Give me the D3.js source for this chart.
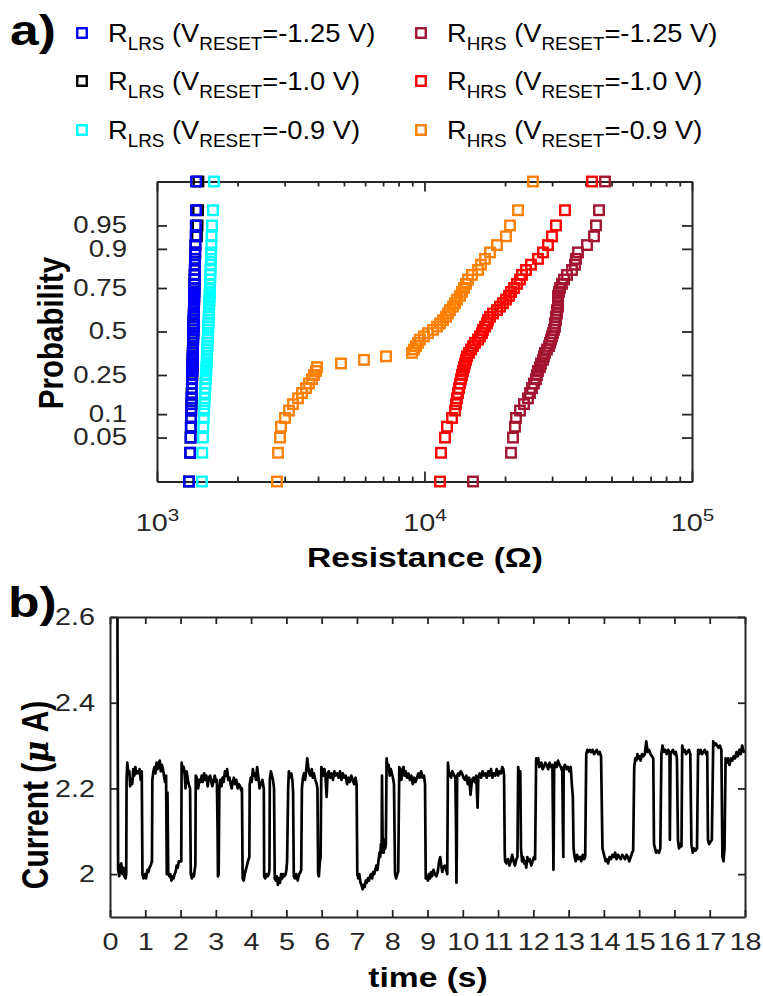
<!DOCTYPE html>
<html>
<head>
<meta charset="utf-8">
<script src="https://cdn.jsdelivr.net/npm/d3@7"></script>
<style>
  body { margin: 0; background: #fff; }
  svg { display: block; font-family: "Liberation Sans", Arial, sans-serif; }
</style>
</head>
<body>
<div id="chart"></div>
<script>
// ---- dados (a): resistência em ohm, 50 ciclos por série ----
const rLrs125 = [1317,1330,1335,1338,1341,1343,1345,1347,1349,1350,1352,1353,1354,1356,1357,1358,1359,1360,1361,1362,1363,1364,1365,1366,1367,1368,1369,1370,1371,1372,1373,1374,1375,1376,1377,1378,1379,1380,1381,1382,1383,1385,1386,1388,1390,1392,1394,1396,1398,1399];
const rLrs100 = [1317,1330,1335,1338,1341,1343,1345,1347,1349,1350,1352,1353,1354,1356,1357,1358,1359,1360,1361,1362,1363,1364,1365,1366,1367,1368,1369,1370,1371,1372,1373,1374,1375,1376,1377,1378,1379,1380,1381,1382,1383,1385,1386,1388,1390,1392,1410,1418,1424,1428];
const rLrs090 = [1473,1476,1485,1490,1495,1500,1504,1508,1512,1515,1518,1521,1524,1527,1530,1533,1535,1537,1539,1541,1543,1545,1547,1549,1551,1553,1555,1557,1559,1561,1563,1565,1567,1569,1571,1573,1575,1577,1579,1581,1583,1585,1588,1591,1594,1597,1600,1605,1619,1633];
const rHrs125 = [15182,21054,21420,21791,21980,22750,23548,24372,24796,25226,25663,26108,26333,26561,27022,27255,27729,27968,28210,28699,29199,29451,29706,29963,30222,30484,30748,30748,31013,31013,31282,31282,31552,31552,31552,31552,31825,32101,32657,33224,34094,35593,36524,36840,37481,40502,43017,43763,44907,47287];
const rHrs100 = [11428,11527,11931,12138,12673,13004,13116,13229,13343,13459,13575,13692,13811,13930,14051,14172,14295,14419,14669,14923,15182,15445,15850,16125,16404,16545,16833,17124,17272,17574,18033,18665,19153,19655,20168,20695,21054,21604,22170,22750,23145,23957,25008,26561,27729,28949,29963,31013,33511,42283];
const rHrs090 = [2809,2834,2883,2908,3010,3115,3224,3366,3484,3606,3700,3797,3863,3930,3964,4874,5941,7180,8980,9136,9294,9456,9620,9957,10306,10759,11136,11428,11727,12034,12243,12456,12782,13004,13229,13575,13811,14051,14295,14544,15052,15850,16264,16833,17574,18665,20168,20874,22363,25446];

const probTicks = [0.05, 0.1, 0.25, 0.5, 0.75, 0.9, 0.95];
const resTicks = [1e3, 1e4, 1e5];

// ---- dados (b): corrente (uA) x tempo (s) ----
const currentTrace = [
  [0.21,2.62],[0.23,2.01],[0.26,1.995],[0.29,2.02],[0.32,2.025],[0.35,2.0],[0.38,2.015],[0.41,1.995],[0.44,1.99],[0.46,2.0],
  [0.47,2.22],[0.49,2.26],[0.52,2.235],[0.55,2.24],[0.57,2.205],[0.6,2.22],[0.63,2.21],[0.66,2.245],[0.69,2.23],[0.72,2.25],[0.75,2.235],[0.78,2.24],[0.81,2.235],[0.84,2.245],[0.87,2.22],[0.9,2.24],
  [0.92,2.0],[0.95,1.99],[0.99,2.0],[1.02,1.99],[1.06,2.01],[1.09,2.005],[1.12,2.015],[1.15,2.02],[1.19,2.03],
  [1.2,2.22],[1.23,2.24],[1.26,2.25],[1.29,2.235],[1.32,2.26],[1.35,2.245],[1.38,2.255],[1.41,2.265],[1.44,2.24],[1.47,2.255],[1.5,2.245],[1.53,2.23],[1.56,2.215],[1.59,2.23],
  [1.61,2.0],[1.63,2.19],[1.65,2.005],[1.68,1.995],[1.71,2.0],[1.74,1.985],[1.77,1.995],[1.8,1.99],[1.83,2.0],[1.86,2.005],[1.89,2.02],[1.92,2.015],[1.95,2.03],[2.02,2.03],
  [2.03,2.26],[2.06,2.245],[2.09,2.25],[2.12,2.23],[2.14,2.2],[2.17,2.24],[2.2,2.225],[2.23,2.21],[2.27,2.2],
  [2.29,2.0],[2.32,1.99],[2.35,2.0],[2.38,1.995],[2.4,2.01],[2.42,2.02],
  [2.43,2.23],[2.46,2.225],[2.5,2.2],[2.53,2.22],[2.56,2.215],[2.6,2.23],[2.63,2.215],[2.67,2.235],[2.7,2.22],[2.73,2.23],[2.77,2.205],[2.8,2.225],[2.84,2.23],[2.87,2.215],[2.9,2.205],[2.94,2.22],[2.97,2.23],[3.0,2.215],[3.03,2.22],
  [3.05,2.1],[3.06,1.995],[3.08,2.0],[3.1,2.2],
  [3.13,2.22],[3.16,2.205],[3.19,2.225],[3.22,2.215],[3.26,2.24],[3.29,2.23],[3.32,2.245],[3.35,2.22],[3.39,2.225],[3.42,2.21],[3.45,2.2],[3.48,2.215],[3.51,2.225],[3.55,2.21],[3.58,2.22],[3.62,2.2],[3.65,2.21],[3.69,2.205],[3.72,2.195],[3.74,2.2],
  [3.76,1.99],[3.79,1.985],[3.82,2.0],[3.85,2.01],[3.88,2.02],[3.91,2.03],[3.95,2.04],
  [3.96,2.21],[3.99,2.225],[4.02,2.215],[4.05,2.245],[4.08,2.23],[4.11,2.235],[4.14,2.22],[4.17,2.25],[4.2,2.23],[4.24,2.2],[4.28,2.21],[4.32,2.22],[4.36,2.2],
  [4.37,1.995],[4.4,1.99],[4.43,2.0],[4.47,1.995],[4.5,2.0],[4.52,2.01],
  [4.53,2.22],[4.56,2.24],[4.59,2.23],[4.62,2.22],[4.65,2.2],
  [4.67,1.99],[4.7,1.985],[4.73,1.995],[4.76,1.975],[4.79,1.99],[4.82,1.98],[4.85,2.0],[4.88,1.99],[4.91,2.0],[4.94,1.995],[4.98,2.0],[5.0,2.01],[5.02,2.03],
  [5.05,2.2],[5.07,2.24],[5.1,2.225],[5.14,2.235],[5.17,2.22],[5.19,2.19],
  [5.21,1.995],[5.24,1.99],[5.28,2.0],[5.32,1.985],[5.36,2.0],[5.4,2.005],[5.42,2.01],
  [5.44,2.2],[5.47,2.225],[5.5,2.235],[5.53,2.22],[5.56,2.24],[5.59,2.27],[5.62,2.25],[5.65,2.235],[5.68,2.23],[5.72,2.245],[5.75,2.225],[5.78,2.235],[5.82,2.22],[5.86,2.21],[5.88,2.2],
  [5.9,2.0],[5.92,1.995],[5.95,2.03],[5.97,2.04],
  [5.99,2.25],[6.02,2.245],[6.05,2.23],[6.08,2.245],[6.11,2.225],[6.14,2.18],[6.17,2.235],[6.2,2.24],[6.24,2.225],[6.28,2.235],[6.32,2.22],[6.36,2.24],[6.4,2.23],[6.44,2.235],[6.48,2.225],[6.52,2.24],[6.56,2.22],[6.6,2.235],[6.64,2.225],[6.68,2.23],[6.72,2.21],[6.76,2.225],[6.8,2.215],[6.84,2.23],[6.88,2.22],[6.92,2.21],[6.96,2.225],[6.99,2.21],
  [7.01,2.0],[7.04,1.99],[7.07,2.0],[7.1,1.98],[7.13,1.975],[7.16,1.965],[7.19,1.975],[7.22,1.97],[7.25,1.985],[7.28,1.98],[7.31,1.99],[7.34,1.985],[7.37,1.995],[7.4,2.0],[7.43,1.99],[7.46,2.005],[7.49,2.0],[7.52,2.01],[7.55,2.02],[7.58,2.01],[7.61,2.03],[7.64,2.05],[7.66,2.04],[7.68,2.07],[7.7,2.05],
  [7.71,2.23],[7.73,2.06],[7.76,2.05],[7.78,2.08],[7.8,2.06],[7.82,2.07],
  [7.84,2.27],[7.87,2.25],[7.9,2.255],[7.93,2.23],[7.96,2.245],[7.99,2.235],[8.02,2.225],[8.05,2.21],
  [8.08,2.0],[8.11,1.99],[8.14,2.0],[8.17,2.005],
  [8.2,2.25],[8.23,2.24],[8.26,2.22],[8.29,2.245],[8.32,2.25],[8.35,2.23],[8.38,2.24],[8.42,2.225],[8.46,2.235],[8.5,2.22],[8.54,2.23],[8.58,2.21],[8.62,2.225],[8.66,2.215],[8.7,2.225],[8.74,2.235],[8.78,2.225],[8.82,2.24],[8.86,2.225],[8.9,2.23],[8.93,2.21],
  [8.95,1.99],[8.98,1.995],[9.01,1.985],[9.04,2.0],[9.07,1.99],[9.1,2.005],[9.13,1.995],[9.17,2.01],[9.21,2.0],[9.25,1.995],[9.29,2.005],[9.33,2.03],[9.36,2.04],[9.39,2.02],[9.42,2.005],[9.45,2.015],[9.49,2.02],[9.53,2.01],[9.56,2.0],
  [9.58,2.26],[9.61,2.23],[9.64,2.235],[9.67,2.225],[9.7,2.24],[9.73,2.235],[9.76,2.23],[9.79,2.225],
  [9.81,2.1],[9.82,1.98],[9.83,2.05],[9.84,2.23],
  [9.87,2.235],[9.9,2.23],[9.94,2.24],[9.98,2.235],[10.02,2.225],[10.06,2.22],[10.1,2.23],[10.14,2.21],[10.18,2.225],[10.22,2.185],[10.26,2.22],[10.3,2.225],[10.34,2.215],[10.38,2.23],[10.42,2.155],[10.44,2.225],[10.48,2.235],[10.52,2.225],[10.56,2.24],[10.6,2.23],[10.64,2.235],[10.68,2.225],[10.72,2.24],[10.76,2.23],[10.8,2.245],[10.84,2.225],[10.88,2.235],[10.92,2.23],[10.96,2.245],[11.0,2.23],[11.04,2.24],[11.08,2.235],[11.12,2.25],[11.15,2.245],[11.17,2.23],
  [11.19,2.05],[11.2,2.03],[11.24,2.025],[11.28,2.035],[11.32,2.02],[11.36,2.03],[11.4,2.045],[11.44,2.03],[11.48,2.02],[11.52,2.035],[11.55,2.04],
  [11.57,2.25],[11.6,2.23],[11.63,2.24],
  [11.65,2.06],[11.68,2.03],[11.71,2.04],[11.74,2.025],[11.77,2.03],[11.8,2.015],[11.83,2.04],[11.86,2.03],[11.9,2.035],[11.94,2.02],[11.98,2.03],[12.02,2.04],[12.05,2.035],
  [12.08,2.27],[12.11,2.26],[12.14,2.27],[12.17,2.25],[12.2,2.255],[12.23,2.26],[12.26,2.245],[12.3,2.25],[12.34,2.26],[12.38,2.255],[12.42,2.245],[12.46,2.26],[12.5,2.25],[12.54,2.255],
  [12.56,2.1],[12.57,2.01],[12.58,2.1],[12.59,2.25],
  [12.62,2.26],[12.66,2.25],[12.7,2.265],[12.74,2.255],[12.78,2.25],[12.82,2.24],
  [12.84,2.1],[12.85,2.04],[12.86,2.25],
  [12.9,2.255],[12.94,2.245],[12.98,2.25],[13.02,2.24],[13.06,2.25],[13.1,2.2],[13.12,2.18],
  [13.14,2.06],[13.17,2.04],[13.2,2.03],[13.24,2.045],[13.28,2.035],[13.32,2.04],[13.36,2.03],[13.4,2.045],[13.44,2.035],[13.47,2.04],
  [13.5,2.28],[13.53,2.29],[13.56,2.285],[13.6,2.29],[13.64,2.285],[13.68,2.29],[13.72,2.28],[13.76,2.285],[13.8,2.29],[13.84,2.28],[13.88,2.285],[13.92,2.275],
  [13.96,2.06],[13.99,2.05],[14.02,2.04],[14.05,2.03],[14.08,2.035],[14.12,2.025],[14.16,2.04],[14.2,2.035],[14.24,2.045],[14.28,2.04],[14.32,2.05],[14.36,2.035],[14.4,2.045],[14.44,2.04],[14.48,2.035],[14.52,2.045],[14.56,2.04],[14.6,2.035],[14.64,2.045],[14.68,2.04],[14.72,2.03],[14.76,2.04],[14.8,2.05],[14.83,2.055],
  [14.86,2.25],[14.89,2.27],[14.92,2.265],[14.95,2.28],[14.98,2.27],[15.01,2.275],[15.04,2.265],[15.08,2.28],[15.12,2.275],[15.16,2.28],[15.2,2.31],[15.24,2.285],[15.28,2.29],[15.32,2.28],[15.36,2.275],[15.4,2.27],
  [15.42,2.07],[15.45,2.06],[15.48,2.05],[15.52,2.055],[15.56,2.05],[15.6,2.06],
  [15.63,2.28],[15.66,2.3],[15.7,2.285],[15.74,2.29],[15.78,2.28],[15.82,2.29],[15.86,2.285],[15.87,2.08],[15.89,2.28],[15.92,2.285],[15.96,2.29],[16.0,2.28],[16.04,2.285],[16.07,2.27],
  [16.1,2.08],[16.13,2.06],[16.17,2.07],[16.2,2.065],
  [16.22,2.3],[16.25,2.285],[16.29,2.29],[16.33,2.28],[16.37,2.285],[16.41,2.29],[16.45,2.28],
  [16.48,2.07],[16.52,2.05],[16.56,2.06],[16.6,2.055],[16.64,2.06],
  [16.67,2.29],[16.7,2.28],[16.74,2.29],[16.78,2.28],[16.82,2.285],[16.86,2.29],[16.9,2.28],[16.93,2.285],
  [16.95,2.08],[16.98,2.07],[17.02,2.075],[17.06,2.08],
  [17.1,2.31],[17.13,2.3],[17.17,2.305],[17.21,2.3],[17.25,2.295],[17.29,2.3],[17.33,2.29],
  [17.36,2.04],[17.39,2.03],[17.42,2.06],
  [17.45,2.27],[17.48,2.26],[17.52,2.27],[17.56,2.255],[17.6,2.27],[17.64,2.265],[17.68,2.275],[17.72,2.27],[17.76,2.285],[17.8,2.275],[17.84,2.29],[17.88,2.28],[17.92,2.3],[17.96,2.285],[18.0,2.29]
];
const timeTicks = [0,1,2,3,4,5,6,7,8,9,10,11,12,13,14,15,16,17,18];
const currentTicks = [2, 2.2, 2.4, 2.6];

// séries (ordem de desenho: preto embaixo do azul)
const series = [
  { data: rLrs100, color: "#000000", state: "LRS", volt: "-1.0 V" },
  { data: rLrs125, color: "#0000ff", state: "LRS", volt: "-1.25 V" },
  { data: rLrs090, color: "#00ffff", state: "LRS", volt: "-0.9 V" },
  { data: rHrs125, color: "#a2142f", state: "HRS", volt: "-1.25 V" },
  { data: rHrs100, color: "#ff0000", state: "HRS", volt: "-1.0 V" },
  { data: rHrs090, color: "#ff8000", state: "HRS", volt: "-0.9 V" }
];
const legendOrder = [1, 0, 2, 3, 4, 5];

const SX = 1.2;            // esticamento horizontal do texto
const AX = "#262626";

// inversa da normal (Acklam)
function probit(p) {
  const a=[-3.969683028665376e+01,2.209460984245205e+02,-2.759285104469687e+02,1.383577518672690e+02,-3.066479806614716e+01,2.506628277459239e+00];
  const b=[-5.447609879822406e+01,1.615858368580409e+02,-1.556989798598866e+02,6.680131188771972e+01,-1.328068155288572e+01];
  const c=[-7.784894002430293e-03,-3.223964580411365e-01,-2.400758277161838e+00,-2.549732539343734e+00,4.374664141464968e+00,2.938163982698783e+00];
  const d=[7.784695709041462e-03,3.224671290700398e-01,2.445134137142996e+00,3.754408661907416e+00];
  const pl = 0.02425;
  let q, r;
  if (p < pl) {
    q = Math.sqrt(-2*Math.log(p));
    return (((((c[0]*q+c[1])*q+c[2])*q+c[3])*q+c[4])*q+c[5])/((((d[0]*q+d[1])*q+d[2])*q+d[3])*q+1);
  }
  if (p <= 1 - pl) {
    q = p - 0.5; r = q*q;
    return (((((a[0]*r+a[1])*r+a[2])*r+a[3])*r+a[4])*r+a[5])*q/(((((b[0]*r+b[1])*r+b[2])*r+b[3])*r+b[4])*r+1);
  }
  q = Math.sqrt(-2*Math.log(1-p));
  return -(((((c[0]*q+c[1])*q+c[2])*q+c[3])*q+c[4])*q+c[5])/((((d[0]*q+d[1])*q+d[2])*q+d[3])*q+1);
}

const svg = d3.select("#chart").append("svg")
    .attr("width", 763).attr("height", 996);
svg.append("rect").attr("width", 763).attr("height", 996).attr("fill", "#fff");

// texto esticado na horizontal
function addText(x, y, size, weight, anchor, rotate, sx = SX) {
  return svg.append("text")
      .attr("transform", `translate(${x},${y}) scale(${sx},1)` + (rotate ? ` rotate(${rotate})` : ""))
      .attr("font-size", size)
      .attr("font-weight", weight)
      .attr("text-anchor", anchor)
      .attr("fill", "#000");
}

function styleAxis(g, size) {
  g.select(".domain").attr("stroke", AX).attr("stroke-width", 2);
  g.selectAll(".tick line").attr("stroke", AX).attr("stroke-width", 1.8);
  g.selectAll("text").each(function() {
    const t = d3.select(this);
    const x = +t.attr("x") || 0;
    t.attr("x", x / SX).attr("transform", `scale(${SX},1)`)
     .attr("font-size", size).attr("fill", AX)
     .attr("font-family", '"Liberation Sans", Arial, sans-serif');
  });
}

// ================= (a) =================
const boxA = { l: 157, r: 692, t: 181.5, b: 481.5 };
const x = d3.scaleLog().domain([1e3, 1e5]).range([boxA.l, boxA.r]);
const y = d3.scaleLinear().domain([probit(0.01), probit(0.99)]).range([boxA.b, boxA.t]);

const minorRes = [];
[1e3, 1e4].forEach(dec => d3.range(2, 10).forEach(k => minorRes.push(k * dec)));

const gxA = svg.append("g").attr("transform", `translate(0,${boxA.b})`)
    .call(d3.axisBottom(x).tickValues(resTicks).tickSizeInner(-10).tickSizeOuter(0).tickPadding(32).tickFormat(() => ""));
gxA.selectAll(".tick text").each(function(d) {
  const t = d3.select(this);
  t.append("tspan").text("10");
  t.append("tspan").attr("dy", "-0.55em").attr("font-size", "0.72em").text(Math.round(Math.log10(d)));
});
styleAxis(gxA, 24);
svg.append("g").attr("transform", `translate(0,${boxA.b})`)
    .call(d3.axisBottom(x).tickValues(minorRes).tickSizeInner(-5).tickSizeOuter(0).tickFormat(() => ""))
    .call(g => styleAxis(g, 24));
svg.append("g").attr("transform", `translate(0,${boxA.t})`)
    .call(d3.axisTop(x).tickValues(resTicks).tickSizeInner(-10).tickSizeOuter(0).tickFormat(() => ""))
    .call(g => styleAxis(g, 24));
svg.append("g").attr("transform", `translate(0,${boxA.t})`)
    .call(d3.axisTop(x).tickValues(minorRes).tickSizeInner(-5).tickSizeOuter(0).tickFormat(() => ""))
    .call(g => styleAxis(g, 24));

const zTicks = probTicks.map(probit);
svg.append("g").attr("transform", `translate(${boxA.l},0)`)
    .call(d3.axisLeft(y).tickValues(zTicks).tickFormat((d, i) => probTicks[i]).tickSizeInner(-10).tickSizeOuter(0).tickPadding(30))
    .call(g => styleAxis(g, 23));
svg.append("g").attr("transform", `translate(${boxA.r},0)`)
    .call(d3.axisRight(y).tickValues(zTicks).tickFormat(() => "").tickSizeInner(-10).tickSizeOuter(0))
    .call(g => styleAxis(g, 23));

// pontos (posição de probabilidade (i-0.5)/n)
const MK = 9.5;
series.forEach(s => {
  const sorted = s.data.slice().sort(d3.ascending);
  const n = sorted.length;
  svg.append("g").selectAll("rect")
    .data(sorted.map((v, i) => [v, (i + 0.5) / n]))
    .enter().append("rect")
      .attr("x", d => x(d[0]) - MK / 2)
      .attr("y", d => y(probit(d[1])) - MK / 2)
      .attr("width", MK).attr("height", MK)
      .attr("fill", "none")
      .attr("stroke", s.color)
      .attr("stroke-width", 2.4);
});

addText(63, 333, 29.5, "bold", "middle", -90).text("Probability");
addText(425, 567, 28, "bold", "middle").text("Resistance (Ω)");
addText(10, 45, 43, "bold", "start").text("a)");

// legenda
const legRows = [33, 81, 130];
const legCols = [{ sq: 82, tx: 108 }, { sq: 421, tx: 447 }];
legendOrder.forEach((si, k) => {
  const s = series[si];
  const col = legCols[Math.floor(k / 3)];
  const ry = legRows[k % 3];
  svg.append("rect")
    .attr("x", col.sq - MK / 2).attr("y", ry - MK / 2)
    .attr("width", MK).attr("height", MK)
    .attr("fill", "none").attr("stroke", s.color).attr("stroke-width", 2.4);
  const t = addText(col.tx, ry + 9, 26, "normal", "start", 0, 1.05);
  t.append("tspan").text("R");
  t.append("tspan").attr("dy", 8).attr("font-size", 18).text(s.state);
  t.append("tspan").attr("dy", -8).text(" (V");
  t.append("tspan").attr("dy", 8).attr("font-size", 18).text("RESET");
  t.append("tspan").attr("dy", -8).text("=" + s.volt + ")");
});

// ================= (b) =================
const boxB = { l: 110, r: 745, t: 617, b: 917 };
const xt = d3.scaleLinear().domain([0, 18]).range([boxB.l, boxB.r]);
const yc = d3.scaleLinear().domain([1.9, 2.6]).range([boxB.b, boxB.t]);

svg.append("defs").append("clipPath").attr("id", "clipB")
  .append("rect").attr("x", boxB.l).attr("y", boxB.t)
  .attr("width", boxB.r - boxB.l).attr("height", boxB.b - boxB.t);

svg.append("path")
    .datum(currentTrace)
    .attr("clip-path", "url(#clipB)")
    .attr("fill", "none")
    .attr("stroke", "#000")
    .attr("stroke-width", 2.7)
    .attr("stroke-linejoin", "round")
    .attr("d", d3.line().x(d => xt(d[0])).y(d => yc(d[1])));

svg.append("g").attr("transform", `translate(0,${boxB.b})`)
    .call(d3.axisBottom(xt).tickValues(timeTicks).tickFormat(d3.format("d")).tickSizeInner(-7).tickSizeOuter(0).tickPadding(16))
    .call(g => styleAxis(g, 24));
svg.append("g").attr("transform", `translate(0,${boxB.t})`)
    .call(d3.axisTop(xt).tickValues(timeTicks).tickFormat(() => "").tickSizeInner(-7).tickSizeOuter(0))
    .call(g => styleAxis(g, 24));
svg.append("g").attr("transform", `translate(${boxB.l},0)`)
    .call(d3.axisLeft(yc).tickValues(currentTicks).tickFormat(d => d).tickSizeInner(-7).tickSizeOuter(0).tickPadding(15))
    .call(g => styleAxis(g, 24));
svg.append("g").attr("transform", `translate(${boxB.r},0)`)
    .call(d3.axisRight(yc).tickValues(currentTicks).tickFormat(() => "").tickSizeInner(-7).tickSizeOuter(0))
    .call(g => styleAxis(g, 24));

const yl = addText(48, 795, 30, "bold", "middle", -90);
yl.append("tspan").text("Current (");
yl.append("tspan").attr("font-style", "italic").attr("font-family", "DejaVu Serif, serif").text("μ");
yl.append("tspan").text(" A)");
addText(428, 987, 28, "bold", "middle").text("time (s)");
addText(8, 617, 43, "bold", "start").text("b)");
</script>
</body>
</html>
